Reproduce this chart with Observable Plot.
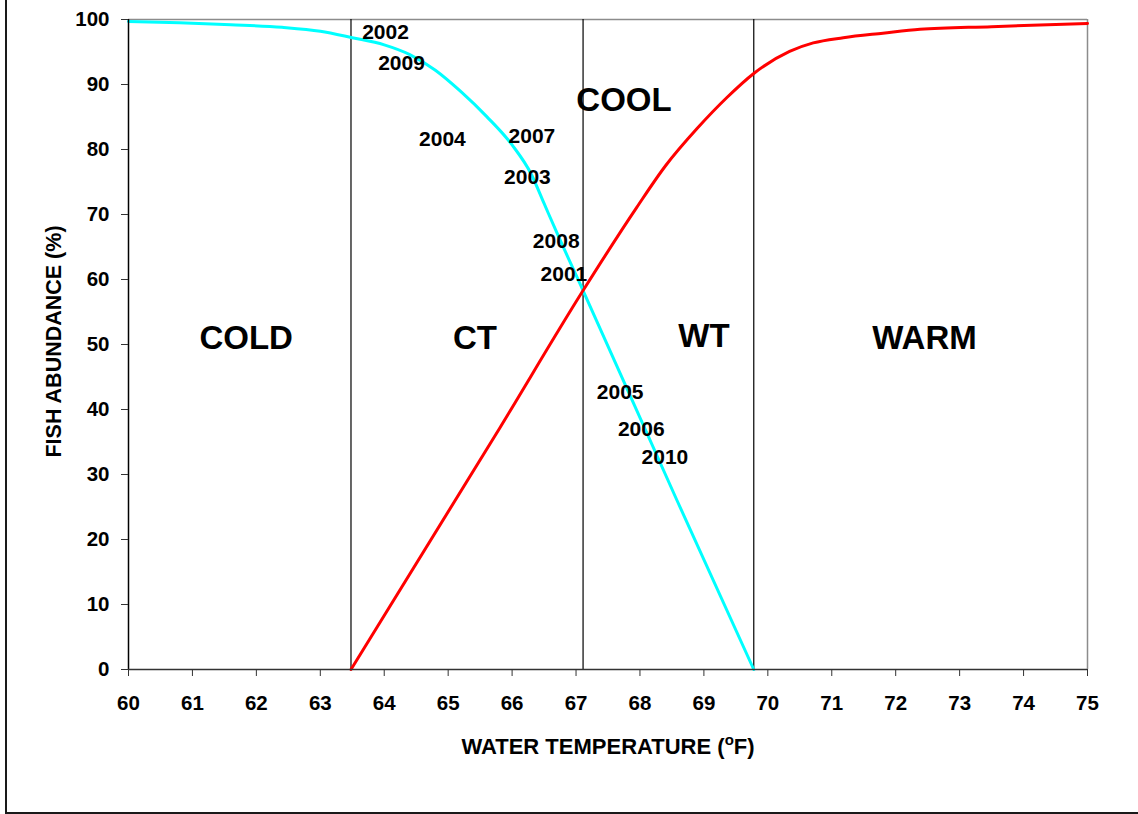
<!DOCTYPE html>
<html><head><meta charset="utf-8">
<script src="https://cdn.jsdelivr.net/npm/d3@7"></script>
<script src="https://cdn.jsdelivr.net/npm/@observablehq/plot@0.6"></script>
<style>
html,body{margin:0;padding:0;background:#fff;}
#wrap{position:relative;width:1138px;height:814px;overflow:hidden;background:#fff;}
#border{position:absolute;left:5px;top:-10px;width:1200px;height:824px;border-left:2px solid #1a1a1a;border-bottom:2px solid #1a1a1a;box-sizing:border-box;pointer-events:none;}
</style></head><body><div id="wrap"><div id="chart"></div><div id="border"></div></div>
<script>
// Cold-water species abundance (cyan)
const coldTemp = [60.0, 60.8, 61.6, 62.4, 63.0, 63.5, 64.0, 64.4, 64.8, 65.2, 65.6, 66.0, 66.3, 66.5, 66.7, 67.11, 68.58, 69.78];
const coldPct  = [99.7, 99.5, 99.2, 98.8, 98.2, 97.2, 96.1, 94.6, 92.2, 88.9, 85.1, 80.7, 76.2, 71.7, 67.2, 58.3, 26.0, 0];
// Warm-water species abundance (red)
const warmTemp = [63.48, 65.81, 67.11, 67.95, 68.4, 68.9, 69.36, 69.78, 70.34, 70.71, 71.18, 71.8, 72.38, 73.5, 75.0];
const warmPct  = [0, 37.2, 58.3, 71.1, 77.5, 83.3, 88.0, 91.7, 95.1, 96.4, 97.2, 97.9, 98.5, 98.9, 99.4];
// Zone boundaries
const boundaries = [63.48, 67.11, 69.78];
// Year labels
const years     = ["2002", "2009", "2004", "2007", "2003", "2008", "2001", "2005", "2006", "2010"];
const yearTemp  = [64.02, 64.27, 64.91, 66.31, 66.24, 66.69, 66.81, 67.69, 68.02, 68.39];
const yearPct   = [98.1, 93.2, 81.5, 82.1, 75.7, 65.9, 60.8, 42.6, 36.9, 32.6];
// Zone labels
const zones     = ["COLD", "CT", "COOL", "WT", "WARM"];
const zoneTemp  = [61.84, 65.42, 67.75, 69.0, 72.45];
const zonePct   = [51.0, 50.9, 87.5, 51.3, 50.9];
// Ticks
const xTicks = [60, 61, 62, 63, 64, 65, 66, 67, 68, 69, 70, 71, 72, 73, 74, 75];
const yTicks = [0, 10, 20, 30, 40, 50, 60, 70, 80, 90, 100];
const xTitle = "WATER TEMPERATURE (°F)";
const yTitle = "FISH ABUNDANCE (%)";

const cold = coldTemp.map((t, i) => ({t, p: coldPct[i]}));
const warm = warmTemp.map((t, i) => ({t, p: warmPct[i]}));
const yearLabels = years.map((s, i) => ({s, t: yearTemp[i], p: yearPct[i]}));
const zoneLabels = zones.map((s, i) => ({s, t: zoneTemp[i], p: zonePct[i]}));

const FONT = "'Liberation Sans', Arial, Helvetica, sans-serif";

const chart = Plot.plot({
  width: 1138,
  height: 814,
  marginLeft: 128,
  marginRight: 51,
  marginTop: 19,
  marginBottom: 145,
  style: {fontFamily: FONT, fontSize: "20px", fontWeight: "bold", color: "#000", background: "#fff", overflow: "visible"},
  x: {domain: [60, 75]},
  y: {domain: [0, 100]},
  marks: [
    Plot.ruleY([100], {stroke: "#8c8c8c", strokeWidth: 1.5}),
    Plot.ruleX([75], {stroke: "#8c8c8c", strokeWidth: 1.5}),
    Plot.ruleX(boundaries, {stroke: "#000", strokeWidth: 1.2}),
    Plot.line(cold, {x: "t", y: "p", stroke: "#00ffff", strokeWidth: 3, curve: "monotone-x"}),
    Plot.line(warm, {x: "t", y: "p", stroke: "#ff0000", strokeWidth: 3, curve: "monotone-x"}),
    Plot.ruleX([60], {stroke: "#000", strokeWidth: 1.5}),
    Plot.ruleY([0], {stroke: "#333", strokeWidth: 1.5}),
    Plot.axisX({ticks: xTicks, tickSize: 7, tickPadding: 19, label: null, fontSize: 20.5, fontWeight: "bold", stroke: "#333", tickFormat: d => String(d)}),
    Plot.axisY({ticks: yTicks, tickSize: 7, tickPadding: 12, label: null, fontSize: 20.5, fontWeight: "bold", stroke: "#333", tickFormat: d => String(d)}),
    Plot.text(yearLabels, {x: "t", y: "p", text: "s", fontSize: 21, fontWeight: "bold", fill: "#000"}),
    Plot.text(zoneLabels, {x: "t", y: "p", text: "s", fontSize: 33, fontWeight: "bold", fill: "#000"}),
    Plot.text([xTitle], {frameAnchor: "bottom", lineAnchor: "middle", textAnchor: "middle", dy: 77.5, text: d => d, fontSize: 22, fontWeight: "bold", fill: "#000"}),
    Plot.text([yTitle], {frameAnchor: "left", lineAnchor: "middle", textAnchor: "middle", dx: -74.5, dy: -3, rotate: -90, text: d => d, fontSize: 21.5, fontWeight: "bold", fill: "#000"})
  ]
});

// superscript "o" in the x title
chart.querySelectorAll("text").forEach(el => {
  if (el.textContent === xTitle) {
    el.textContent = "";
    const ns = "http://www.w3.org/2000/svg";
    const a = document.createElementNS(ns, "tspan"); a.textContent = "WATER TEMPERATURE (";
    const b = document.createElementNS(ns, "tspan"); b.textContent = "o"; b.setAttribute("dy", "-9"); b.setAttribute("font-size", "15");
    const c = document.createElementNS(ns, "tspan"); c.textContent = "F)"; c.setAttribute("dy", "9");
    el.append(a, b, c);
  }
});

document.getElementById("chart").append(chart);
</script>
</body></html>
